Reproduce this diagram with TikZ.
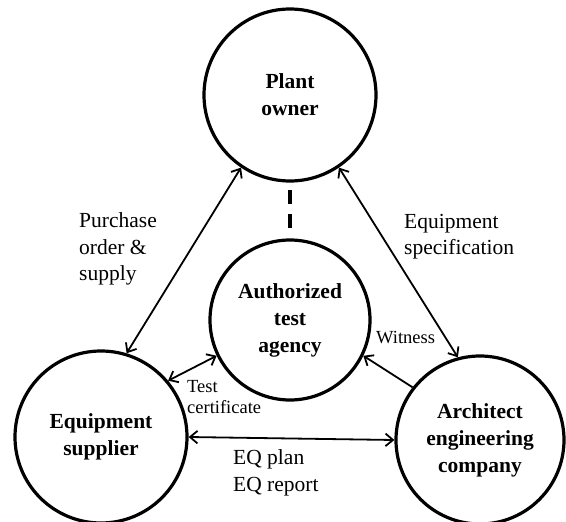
\documentclass[tikz,border=0pt]{standalone}
\usepackage{fontspec}
\setmainfont{Liberation Serif}
\usetikzlibrary{arrows.meta}

\tikzset{
  party/.style={circle, draw, line width=3.2pt, inner sep=0pt,
    font=\bfseries\fontsize{21.5}{27}\selectfont, align=center},
  barb/.tip={Straight Barb[length=7.5pt,width=12.5pt,line width=1.8pt]},
  link/.style={line width=1.8pt, barb-barb},
  oneway/.style={line width=1.8pt, -barb},
  note/.style={font=\fontsize{21.5}{26.5}\selectfont, align=left, inner sep=0pt},
  smallnote/.style={font=\fontsize{18.5}{21}\selectfont, align=left, inner sep=0pt}
}

\begin{document}
\begin{tikzpicture}[x=1pt,y=-1pt]
  \useasboundingbox (0,0) rectangle (566,522);

  % the four parties
  \node[party, minimum size=172pt] (po)  at (290,95)  {Plant\\owner};
  \node[party, minimum size=160pt] (ata) at (290,320) {Authorized\\test\\agency};
  \node[party, minimum size=172pt] (sup) at (101,437) {Equipment\\supplier};
  \node[party, minimum size=168pt] (aec) at (480,440) {Architect\\engineering\\company};

  % relations between them
  \draw[line width=4pt, dash pattern=on 14pt off 10pt, shorten <=7.5pt, shorten >=7.5pt]
    (po.south) -- (ata.north);
  \draw[link]   (po.236) -- (sup.73);
  \draw[link]   (po.304) -- (aec.105);
  \draw[oneway] (aec.142) -- (ata.334);
  \draw[link]   (sup.40) -- (ata.206);
  \draw[link]   (sup.0)  -- (aec.180);

  % labels of the relations
  \node[note, anchor=west] (lpo) at (79,249) {Purchase\\order \&\\supply};
  \node[note, anchor=west] (les) at (404,236.5) {Equipment\\specification};
  \node[smallnote, anchor=base west] (lwi) at (376,343) {Witness};
  \node[smallnote, anchor=west] (ltc) at (187,397.5) {Test\\certificate};
  \node[note, anchor=west] (leq) at (233,473) {EQ plan\\EQ report};
\end{tikzpicture}
\end{document}
